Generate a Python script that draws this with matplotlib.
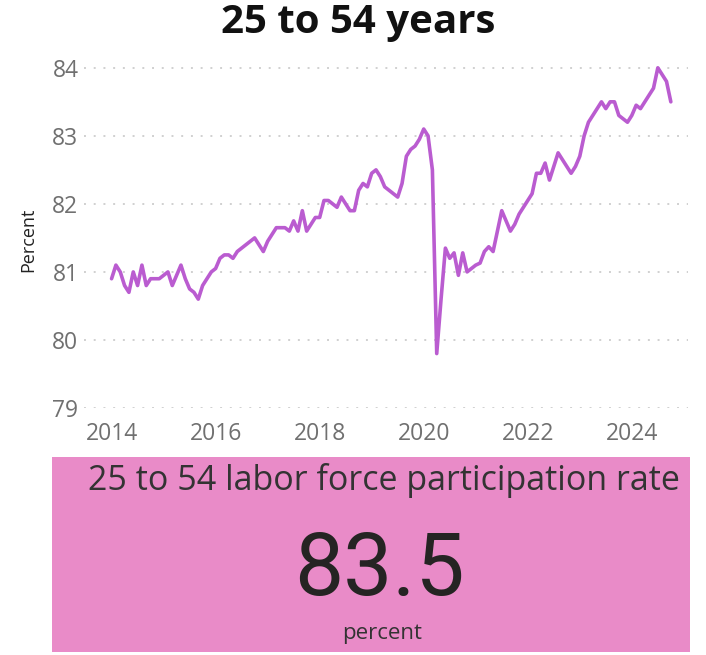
import matplotlib
matplotlib.use("Agg")
import matplotlib.pyplot as plt
from matplotlib.patches import Rectangle
import numpy as np

plt.rcParams['font.family'] = ['Open Sans', 'DejaVu Sans']

# Monthly prime-age (25-54) labor force participation rate, Jan 2014 - Oct 2024
start_year = 2014
rate = [
    # 2014
    80.9, 81.1, 81.0, 80.8, 80.7, 81.0, 80.8, 81.1, 80.8, 80.9, 80.9, 80.9,
    # 2015
    80.95, 81.0, 80.8, 80.95, 81.1, 80.9, 80.75, 80.7, 80.6, 80.8, 80.9, 81.0,
    # 2016
    81.05, 81.2, 81.25, 81.25, 81.2, 81.3, 81.35, 81.4, 81.45, 81.5, 81.4, 81.3,
    # 2017
    81.45, 81.55, 81.65, 81.65, 81.65, 81.6, 81.75, 81.6, 81.9, 81.6, 81.7, 81.8,
    # 2018
    81.8, 82.05, 82.05, 82.0, 81.95, 82.1, 82.0, 81.9, 81.9, 82.2, 82.3, 82.25,
    # 2019
    82.45, 82.5, 82.4, 82.25, 82.2, 82.15, 82.1, 82.3, 82.7, 82.8, 82.85, 82.95,
    # 2020
    83.1, 83.0, 82.5, 79.8, 80.6, 81.35, 81.2, 81.28, 80.95, 81.28, 81.0, 81.05,
    # 2021
    81.1, 81.13, 81.3, 81.37, 81.3, 81.6, 81.9, 81.75, 81.6, 81.7, 81.85, 81.95,
    # 2022
    82.05, 82.15, 82.45, 82.45, 82.6, 82.35, 82.55, 82.75, 82.65, 82.55, 82.45, 82.55,
    # 2023
    82.7, 83.0, 83.2, 83.3, 83.4, 83.5, 83.4, 83.5, 83.5, 83.3, 83.25, 83.2,
    # 2024
    83.3, 83.45, 83.4, 83.5, 83.6, 83.7, 84.0, 83.9, 83.8, 83.5,
]
x_ticks = [2014, 2016, 2018, 2020, 2022, 2024]
y_ticks = [79, 80, 81, 82, 83, 84]

title = "25 to 54 years"
y_label = "Percent"
card_title = "25 to 54 labor force participation rate"
card_value = "83.5"
card_unit = "percent"

W, H = 706, 655
fig = plt.figure(figsize=(W / 100, H / 100), dpi=100)
fig.patch.set_facecolor('white')

def fx(px):
    return px / W

def fy(py):
    return 1 - py / H

ax = fig.add_axes([fx(84), fy(408), fx(688) - fx(84), fy(61) - fy(408)])
years = start_year + np.arange(len(rate)) / 12.0
ax.plot(years, rate, color='#BA5CD0', linewidth=2.6, solid_joinstyle='round', solid_capstyle='round')
ax.set_xlim(2013.47, 2025.08)
ax.set_ylim(79, 84.1)
ax.set_yticks(y_ticks)
ax.set_xticks(x_ticks)
ax.set_xticklabels([str(t) for t in x_ticks])
ax.tick_params(axis='both', length=0, colors='#707070', labelsize=16.5)
ax.tick_params(axis='x', pad=10)
ax.tick_params(axis='y', pad=4)
for s in ax.spines.values():
    s.set_visible(False)
ax.grid(axis='y', linestyle=(0, (1, 4)), color='#d0d0d0', linewidth=1.4)
ax.set_axisbelow(True)

fig.text(fx(358), fy(23), title, ha='center', va='center', fontsize=29, fontweight='bold', color='#111111')
fig.text(fx(28), fy(240), y_label, ha='center', va='center', rotation=90, fontsize=13, color='#222222')

card = Rectangle((fx(52), fy(652)), fx(690) - fx(52), fy(457) - fy(652), transform=fig.transFigure,
                 facecolor='#E98BC8', edgecolor='none')
fig.patches.append(card)
fig.text(fx(384), fy(480), card_title, ha='center', va='center', fontsize=24.5, color='#333333')
fig.text(fx(379), fy(571), card_value, ha='center', va='center', fontsize=63, color='#252423',
         family=['Roboto', 'DejaVu Sans'])
fig.text(fx(382), fy(633), card_unit, ha='center', va='center', fontsize=16, color='#333333')

fig.savefig('out.png', dpi=100)
